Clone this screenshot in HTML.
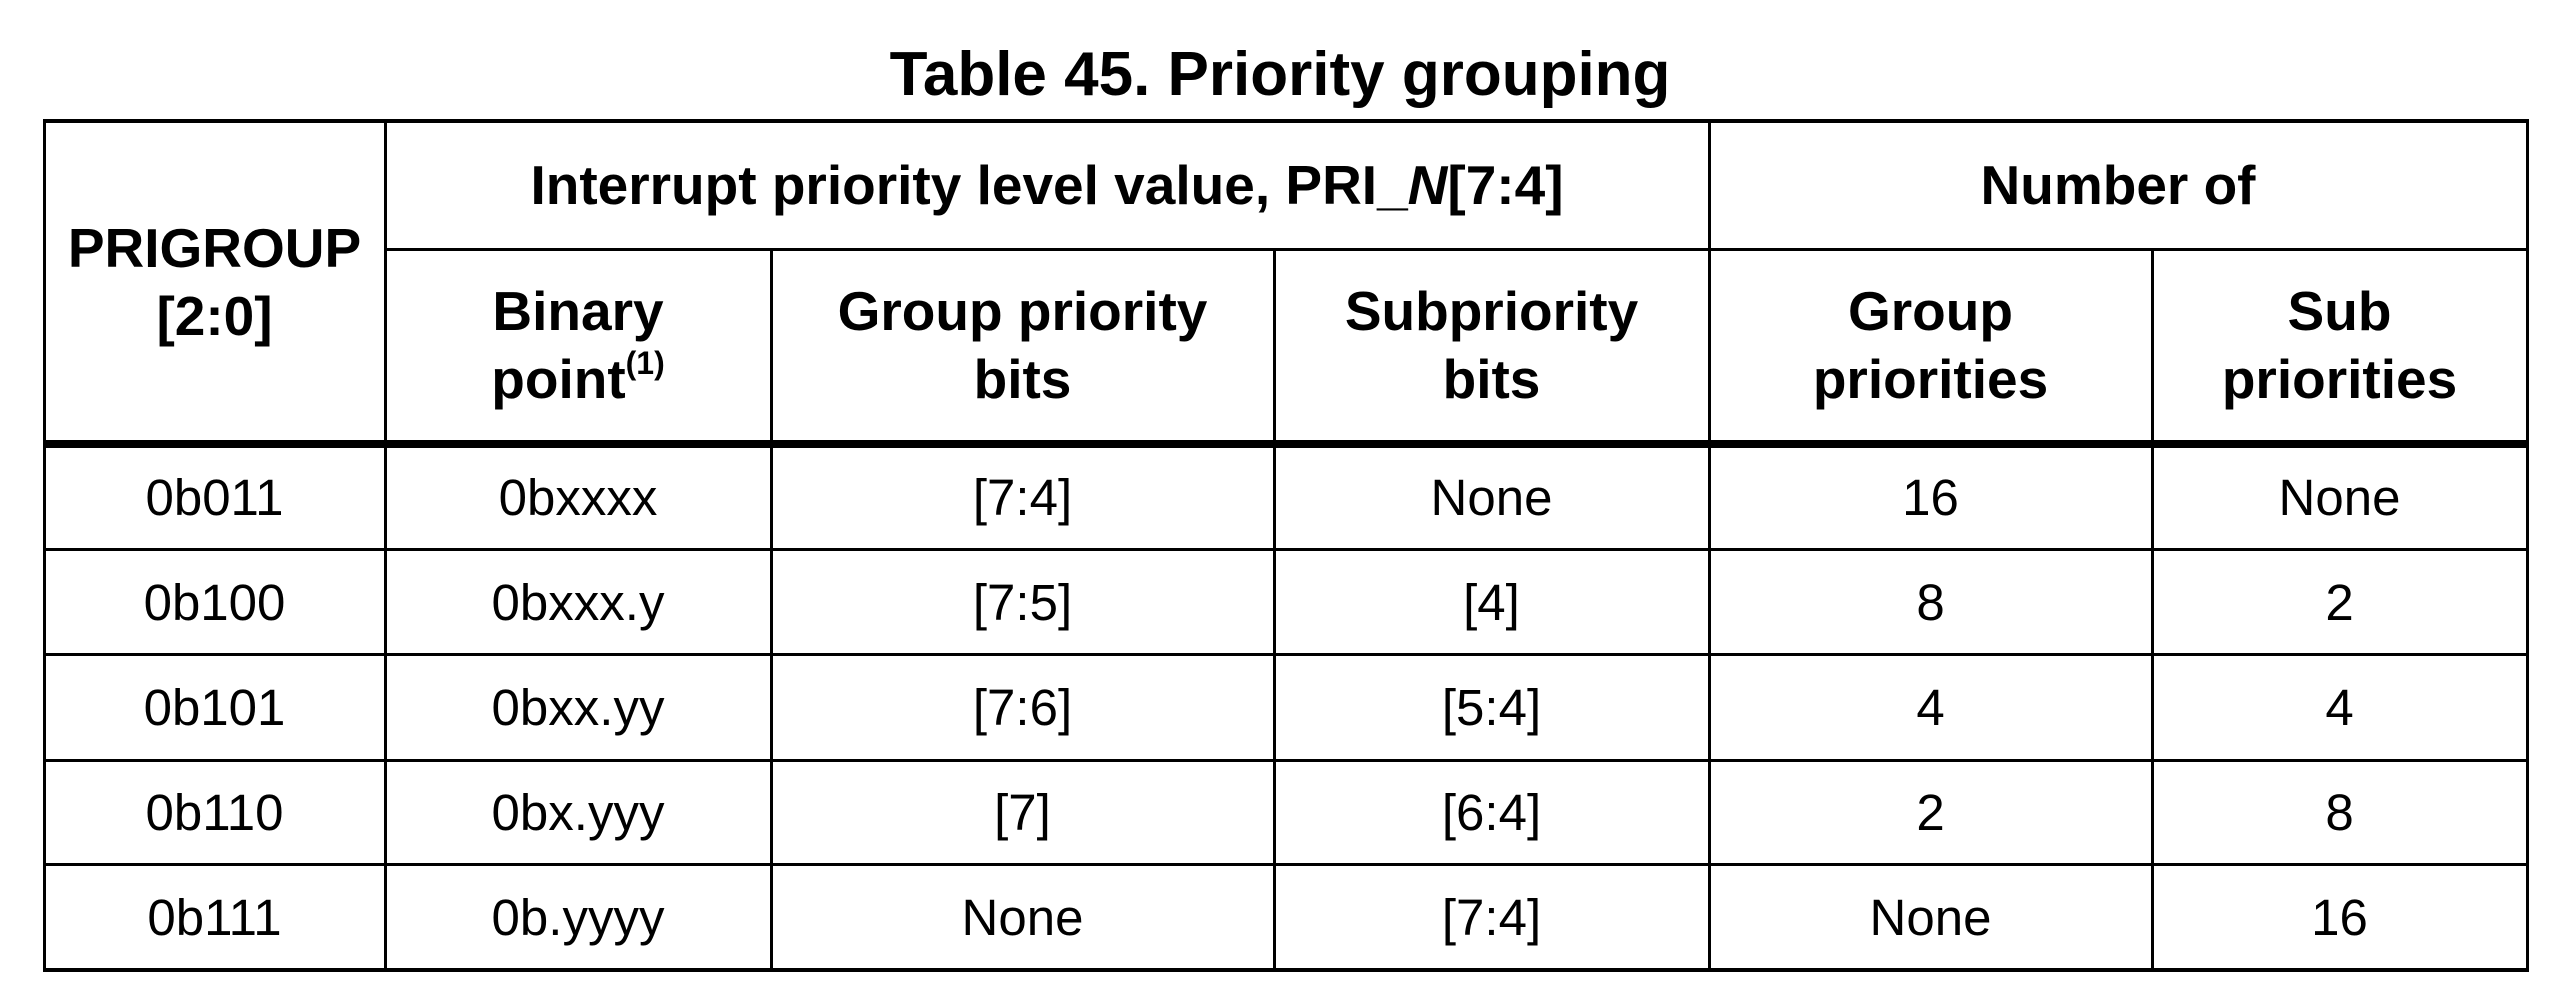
<!DOCTYPE html>
<html><head><meta charset="utf-8"><style>
html,body{margin:0;padding:0;background:#fff;width:2560px;height:996px;overflow:hidden;position:relative;font-family:"Liberation Sans",Arial,sans-serif;color:#000}
.c{position:absolute;display:flex;align-items:center;justify-content:center;text-align:center;font-size:51px;line-height:68px}
.b{font-weight:bold;font-size:55px}
.h{position:absolute;background:#000}
sup{font-size:32px;line-height:0;vertical-align:24px}
</style></head><body>
<div class="c b" style="left:0;width:2560px;top:40px;height:70px;font-size:62px"><span>Table 45. Priority grouping</span></div>

<div class="h" style="left:44px;width:2485px;top:119px;height:4px"></div>
<div class="h" style="left:385px;width:2144px;top:248px;height:3px"></div>
<div class="h" style="left:44px;width:2485px;top:440px;height:8px"></div>
<div class="h" style="left:44px;width:2485px;top:548px;height:3px"></div>
<div class="h" style="left:44px;width:2485px;top:653px;height:3px"></div>
<div class="h" style="left:44px;width:2485px;top:759px;height:3px"></div>
<div class="h" style="left:44px;width:2485px;top:863px;height:3px"></div>
<div class="h" style="left:44px;width:2485px;top:968px;height:4px"></div>
<div class="h" style="left:43px;width:3px;top:119px;height:853px"></div>
<div class="h" style="left:384px;width:3px;top:119px;height:853px"></div>
<div class="h" style="left:770px;width:3px;top:249px;height:723px"></div>
<div class="h" style="left:1273px;width:3px;top:249px;height:723px"></div>
<div class="h" style="left:1708px;width:3px;top:119px;height:853px"></div>
<div class="h" style="left:2151px;width:3px;top:249px;height:723px"></div>
<div class="h" style="left:2526px;width:3px;top:119px;height:853px"></div>

<div class="c b" style="left:44px;width:341px;top:121px;height:322px"><span>PRIGROUP<br>[2:0]</span></div>
<div class="c b" style="left:385px;width:1324px;top:121px;height:128px"><span>Interrupt priority level value, PRI_<i>N</i>[7:4]</span></div>
<div class="c b" style="left:1709px;width:818px;top:121px;height:128px"><span>Number of</span></div>
<div class="c b" style="left:385px;width:386px;top:250px;height:190px"><span>Binary<br>point<sup>(1)</sup></span></div>
<div class="c b" style="left:771px;width:503px;top:250px;height:190px"><span>Group priority<br>bits</span></div>
<div class="c b" style="left:1274px;width:435px;top:250px;height:190px"><span>Subpriority<br>bits</span></div>
<div class="c b" style="left:1709px;width:443px;top:250px;height:190px"><span>Group<br>priorities</span></div>
<div class="c b" style="left:2152px;width:375px;top:250px;height:190px"><span>Sub<br>priorities</span></div>

<div class="c" style="left:44px;width:341px;top:446px;height:103px">0b011</div>
<div class="c" style="left:385px;width:386px;top:446px;height:103px">0bxxxx</div>
<div class="c" style="left:771px;width:503px;top:446px;height:103px">[7:4]</div>
<div class="c" style="left:1274px;width:435px;top:446px;height:103px">None</div>
<div class="c" style="left:1709px;width:443px;top:446px;height:103px">16</div>
<div class="c" style="left:2152px;width:375px;top:446px;height:103px">None</div>

<div class="c" style="left:44px;width:341px;top:551px;height:103px">0b100</div>
<div class="c" style="left:385px;width:386px;top:551px;height:103px">0bxxx.y</div>
<div class="c" style="left:771px;width:503px;top:551px;height:103px">[7:5]</div>
<div class="c" style="left:1274px;width:435px;top:551px;height:103px">[4]</div>
<div class="c" style="left:1709px;width:443px;top:551px;height:103px">8</div>
<div class="c" style="left:2152px;width:375px;top:551px;height:103px">2</div>

<div class="c" style="left:44px;width:341px;top:656px;height:104px">0b101</div>
<div class="c" style="left:385px;width:386px;top:656px;height:104px">0bxx.yy</div>
<div class="c" style="left:771px;width:503px;top:656px;height:104px">[7:6]</div>
<div class="c" style="left:1274px;width:435px;top:656px;height:104px">[5:4]</div>
<div class="c" style="left:1709px;width:443px;top:656px;height:104px">4</div>
<div class="c" style="left:2152px;width:375px;top:656px;height:104px">4</div>

<div class="c" style="left:44px;width:341px;top:762px;height:102px">0b110</div>
<div class="c" style="left:385px;width:386px;top:762px;height:102px">0bx.yyy</div>
<div class="c" style="left:771px;width:503px;top:762px;height:102px">[7]</div>
<div class="c" style="left:1274px;width:435px;top:762px;height:102px">[6:4]</div>
<div class="c" style="left:1709px;width:443px;top:762px;height:102px">2</div>
<div class="c" style="left:2152px;width:375px;top:762px;height:102px">8</div>

<div class="c" style="left:44px;width:341px;top:866px;height:103px">0b111</div>
<div class="c" style="left:385px;width:386px;top:866px;height:103px">0b.yyyy</div>
<div class="c" style="left:771px;width:503px;top:866px;height:103px">None</div>
<div class="c" style="left:1274px;width:435px;top:866px;height:103px">[7:4]</div>
<div class="c" style="left:1709px;width:443px;top:866px;height:103px">None</div>
<div class="c" style="left:2152px;width:375px;top:866px;height:103px">16</div>
</body></html>
